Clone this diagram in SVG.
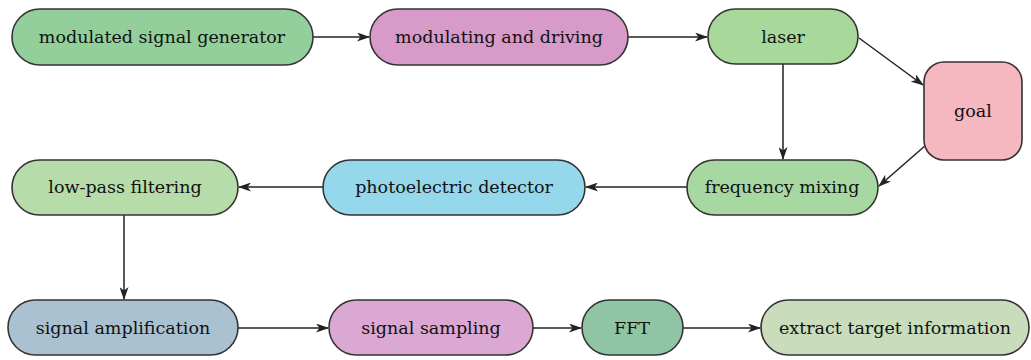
<svg xmlns="http://www.w3.org/2000/svg" width="1031" height="360" viewBox="0 0 1031 360">
<defs>
<marker id="arr" viewBox="0 0 13 9" refX="12" refY="4.5" markerWidth="13" markerHeight="9" markerUnits="userSpaceOnUse" orient="auto">
<path d="M0,0 L13,4.5 L0,9 L3.5,4.5 Z" fill="#222"/>
</marker>
<style>
.n{stroke:#333;stroke-width:1.6}
.t{font-family:"DejaVu Serif","Liberation Serif",serif;font-size:17.5px;fill:#111;text-anchor:middle;dominant-baseline:central}
.c{stroke:#222;stroke-width:1.5;fill:none;marker-end:url(#arr)}
</style>
</defs>
<rect width="1031" height="360" fill="#fff"/>
<g id="connectors">
<line class="c" x1="313" y1="37" x2="369" y2="37"/>
<line class="c" x1="628" y1="37" x2="707" y2="37"/>
<line class="c" x1="859" y1="38" x2="923" y2="85"/>
<line class="c" x1="783" y1="64" x2="783" y2="159"/>
<line class="c" x1="926" y1="145" x2="879" y2="186"/>
<line class="c" x1="687" y1="187" x2="586" y2="187"/>
<line class="c" x1="323" y1="187" x2="239" y2="187"/>
<line class="c" x1="124" y1="215" x2="124" y2="299"/>
<line class="c" x1="238" y1="328" x2="328" y2="328"/>
<line class="c" x1="533" y1="328" x2="581" y2="328"/>
<line class="c" x1="683" y1="328" x2="760" y2="328"/>
</g>
<g id="n1"><rect class="n" x="12" y="9" width="301" height="56" rx="28" fill="#93cf9a"/><text class="t" x="162" y="37">modulated signal generator</text></g>
<g id="n2"><rect class="n" x="370" y="9" width="258" height="56" rx="28" fill="#d89ac8"/><text class="t" x="499" y="37">modulating and driving</text></g>
<g id="n3"><rect class="n" x="708" y="9" width="150" height="55" rx="27.5" fill="#a9d99a"/><text class="t" x="783" y="37">laser</text></g>
<g id="n4"><rect class="n" x="924" y="62" width="98" height="98" rx="20" fill="#f5b7c0"/><text class="t" x="973" y="111">goal</text></g>
<g id="n5"><rect class="n" x="687" y="160" width="191" height="55" rx="27.5" fill="#a8d8a2"/><text class="t" x="782" y="187">frequency mixing</text></g>
<g id="n6"><rect class="n" x="323" y="160" width="262" height="55" rx="27.5" fill="#95d7eb"/><text class="t" x="454" y="187">photoelectric detector</text></g>
<g id="n7"><rect class="n" x="12" y="160" width="226" height="55" rx="27.5" fill="#b6dcaa"/><text class="t" x="125" y="187">low-pass filtering</text></g>
<g id="n8"><rect class="n" x="8" y="300" width="230" height="55" rx="27.5" fill="#a9c1d1"/><text class="t" x="123" y="328">signal amplification</text></g>
<g id="n9"><rect class="n" x="329" y="300" width="204" height="55" rx="27.5" fill="#dba8d3"/><text class="t" x="431" y="328">signal sampling</text></g>
<g id="n10"><rect class="n" x="582" y="300" width="101" height="55" rx="27.5" fill="#8fc4a4"/><text class="t" x="632" y="328">FFT</text></g>
<g id="n11"><rect class="n" x="761" y="300" width="268" height="55" rx="27.5" fill="#c9ddbc"/><text class="t" x="895" y="328">extract target information</text></g>
</svg>
